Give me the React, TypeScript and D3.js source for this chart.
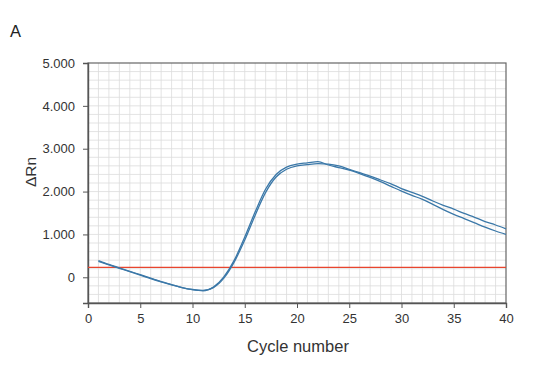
import React, { useEffect, useRef } from 'react';
import * as d3 from 'd3';

const cycles = d3.range(1, 41);
const wellA = [390, 300, 220, 140, 60, -20, -100, -170, -240, -290, -315, -230, 10, 400, 940, 1530, 2060, 2400, 2570, 2640, 2670, 2700, 2620, 2560, 2500, 2420, 2330, 2230, 2120, 2010, 1910, 1820, 1700, 1580, 1470, 1370, 1270, 1170, 1080, 1000];
const wellB = [370, 290, 210, 130, 50, -30, -105, -175, -240, -285, -305, -240, -20, 360, 870, 1450, 1980, 2340, 2520, 2600, 2630, 2650, 2640, 2600, 2520, 2440, 2360, 2270, 2180, 2070, 1980, 1890, 1780, 1680, 1590, 1490, 1400, 1300, 1220, 1130];
const threshold = 230;
const xTicks = [0, 5, 10, 15, 20, 25, 30, 35, 40];
const yTicks = [0, 1000, 2000, 3000, 4000, 5000];

const MARGIN = { top: 63, right: 34, bottom: 67, left: 88 };
const WIDTH = 540;
const HEIGHT = 370;

const fmt = d3.formatLocale({ decimal: ',', thousands: '.', grouping: [3], currency: ['', '€'] }).format(',.0f');

const Chart = () => {
  const ref = useRef<SVGGElement>(null);
  const boundsWidth = WIDTH - MARGIN.left - MARGIN.right;
  const boundsHeight = HEIGHT - MARGIN.top - MARGIN.bottom;

  useEffect(() => {
    const g = d3.select(ref.current);
    g.selectAll('*').remove();

    const x = d3.scaleLinear().domain([0, 40]).range([0, boundsWidth]);
    const y = d3.scaleLinear().domain([-600, 5000]).range([boundsHeight, 0]);

    // rejilla
    g.append('g')
      .selectAll('line')
      .data(d3.range(1, 40))
      .join('line')
      .attr('x1', (d) => x(d))
      .attr('x2', (d) => x(d))
      .attr('y1', 0)
      .attr('y2', boundsHeight)
      .attr('stroke', '#dcdcdc')
      .attr('stroke-width', 0.8);
    g.append('g')
      .selectAll('line')
      .data(d3.range(-400, 5000, 200))
      .join('line')
      .attr('x1', 0)
      .attr('x2', boundsWidth)
      .attr('y1', (d) => y(d))
      .attr('y2', (d) => y(d))
      .attr('stroke', '#dcdcdc')
      .attr('stroke-width', 0.8);

    // marco
    g.append('rect')
      .attr('width', boundsWidth)
      .attr('height', boundsHeight)
      .attr('fill', 'none')
      .attr('stroke', '#666')
      .attr('stroke-width', 1.2);

    // ejes
    const xAxis = g
      .append('g')
      .attr('transform', `translate(0,${boundsHeight})`)
      .call(d3.axisBottom(x).tickValues(xTicks).tickSize(5).tickPadding(6));
    const yAxis = g
      .append('g')
      .call(d3.axisLeft(y).tickValues(yTicks).tickSize(5).tickPadding(8).tickFormat((d) => fmt(d as number)));
    [xAxis, yAxis].forEach((a) => {
      a.select('.domain').attr('stroke', '#555').attr('stroke-width', 1.4);
      a.selectAll('.tick line').attr('stroke', '#555');
      a.selectAll('text')
        .attr('fill', '#333')
        .style('font-size', '13px')
        .style('font-family', 'Liberation Sans, Arial, sans-serif');
    });

    // umbral
    g.append('line')
      .attr('x1', 0)
      .attr('x2', boundsWidth)
      .attr('y1', y(threshold))
      .attr('y2', y(threshold))
      .attr('stroke', '#e8452e')
      .attr('stroke-width', 1.2);

    // curvas
    const line = d3
      .line<number>()
      .x((_, i) => x(cycles[i]))
      .y((d) => y(d))
      .curve(d3.curveMonotoneX);
    [wellA, wellB].forEach((s) => {
      g.append('path')
        .attr('d', line(s))
        .attr('fill', 'none')
        .attr('stroke', '#3b78a8')
        .attr('stroke-width', 1.3);
    });
  }, [boundsWidth, boundsHeight]);

  return (
    <svg width={WIDTH} height={HEIGHT} style={{ display: 'block', fontFamily: 'Liberation Sans, Arial, sans-serif' }}>
      <text x={10} y={37} fontSize={16.5} fill="#222">A</text>
      <g ref={ref} transform={`translate(${MARGIN.left},${MARGIN.top})`} />
      <text
        transform={`translate(36,172) rotate(-90)`}
        textAnchor="middle"
        fontSize={15.5}
        fill="#333"
      >
        ΔRn
      </text>
      <text x={298} y={352} textAnchor="middle" fontSize={16.5} fill="#333">
        Cycle number
      </text>
    </svg>
  );
};

export default function App() {
  return (
    <div style={{ margin: -8 }}>
      <Chart />
    </div>
  );
}
